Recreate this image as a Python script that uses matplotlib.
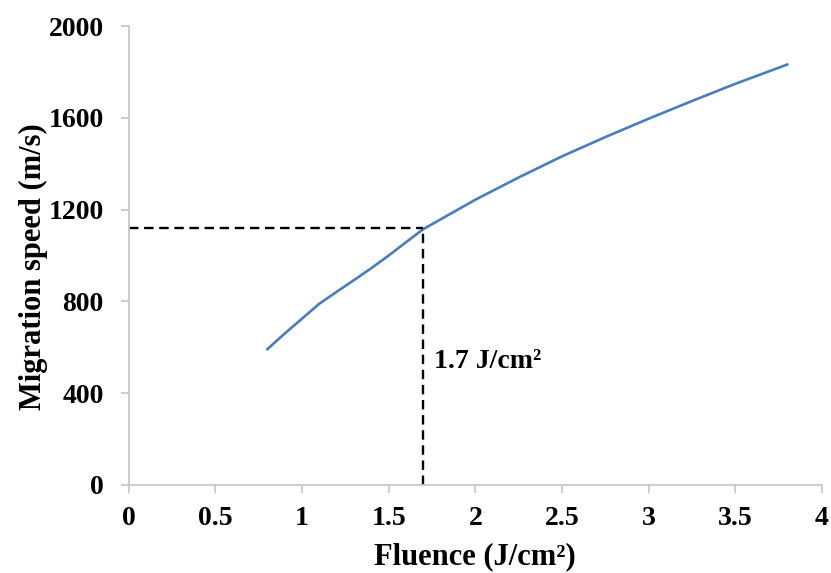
import matplotlib.pyplot as plt
import numpy as np

# data
fluence = [0.8, 0.9, 1.0, 1.1, 1.2, 1.3, 1.4, 1.5, 1.6, 1.7,
           2.0, 2.25, 2.5, 2.75, 3.0, 3.25, 3.5, 3.8]
speed = [592, 660, 725, 790, 842, 893, 945, 1000, 1058, 1115,
         1243, 1340, 1432, 1516, 1596, 1673, 1748, 1832]
x_ticks = [0, 0.5, 1, 1.5, 2, 2.5, 3, 3.5, 4]
x_tick_labels = ["0", "0.5", "1", "1.5", "2", "2.5", "3", "3.5", "4"]
y_ticks = [0, 400, 800, 1200, 1600, 2000]
marker_x = 1.7
marker_y = 1120

plt.rcParams['font.family'] = ['Liberation Serif', 'DejaVu Serif']
plt.rcParams['font.weight'] = 'bold'

fig = plt.figure(figsize=(8.31, 5.73), dpi=100)
ax = fig.add_axes([0.155, 0.1536, 0.834, 0.801])

ax.plot(fluence, speed, color='#4a7ebb', linewidth=1.9)

# dashed guide lines
ax.plot([0, marker_x], [marker_y, marker_y], color='black', linestyle=(0, (4, 2.4)), linewidth=1.7)
ax.plot([marker_x, marker_x], [0, marker_y], color='black', linestyle=(0, (4, 2.4)), linewidth=1.7)
ax.text(1.76, 540, "1.7 J/cm²", fontsize=20, fontweight='bold', va='center', ha='left')

ax.set_xlim(0, 4)
ax.set_ylim(0, 2000)
ax.set_xticks(x_ticks)
ax.set_xticklabels(x_tick_labels)
ax.set_yticks(y_ticks)

for side in ['top', 'right']:
    ax.spines[side].set_visible(False)
for side in ['left', 'bottom']:
    ax.spines[side].set_color('#c8c8c8')
    ax.spines[side].set_linewidth(1.3)

ax.tick_params(direction='out', length=6, width=1.3, color='#c8c8c8', labelsize=20)
ax.tick_params(axis='x', pad=9)
ax.tick_params(axis='y', pad=12)
for lab in ax.get_xticklabels() + ax.get_yticklabels():
    lab.set_fontweight('bold')

ax.set_xlabel("Fluence (J/cm²)", fontsize=22, fontweight='bold', labelpad=8)
ax.set_ylabel("Migration speed (m/s)", fontsize=22, fontweight='bold')
ax.yaxis.set_label_coords(-0.117, 0.475)

plt.savefig("out.png", dpi=100)
